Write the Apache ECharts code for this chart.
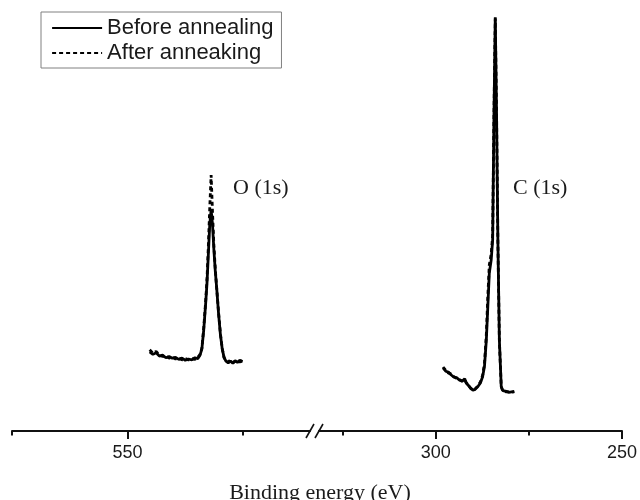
<!DOCTYPE html>
<html>
<head>
<meta charset="utf-8">
<script src="https://cdn.jsdelivr.net/npm/echarts@6/dist/echarts.min.js"></script>
<style>html,body{margin:0;padding:0;background:#fff}#c{width:640px;height:500px}</style>
</head>
<body>
<div id="c"></div>
<script>
// ---- Data (binding energy in eV, intensity in arbitrary units) ----
const seriesNames = ['Before annealing', 'After anneaking'];
const axisTitle = 'Binding energy (eV)';
const leftMajorTicks = [550];
const leftMinorTicks = [575, 525];
const rightMajorTicks = [300, 250];
const rightMinorTicks = [325, 275];
const peakLabels = ['O (1s)', 'C (1s)'];

const oEnergy = [545.2, 544.5, 543.8, 543.1, 542.4, 541.7, 541.0, 540.3, 539.6, 538.9, 538.2, 537.5, 536.8, 536.1, 535.4, 534.8, 534.3, 533.9, 533.5, 533.1, 532.8, 532.5, 532.2, 531.9, 531.6, 531.3, 531.0, 530.7, 530.3, 529.9, 529.5, 529.1, 528.7, 528.2, 527.7, 527.2, 526.7, 526.2, 525.7, 525.1];
const oBefore = [18.8, 18.2, 18.6, 17.8, 18.0, 17.4, 17.7, 17.3, 17.5, 17.0, 17.3, 16.8, 17.1, 16.9, 17.4, 17.2, 18.0, 19.5, 24, 30, 35, 42, 49, 52.5, 49, 43, 38, 34, 28, 23, 19.5, 17.5, 16.6, 16.2, 16.6, 16.1, 16.7, 16.3, 16.8, 16.5];
const oAfter  = [19.3, 18.5, 18.9, 18.1, 17.7, 17.8, 17.3, 17.6, 17.1, 17.4, 16.9, 17.2, 16.9, 17.2, 17.0, 17.5, 18.2, 19.7, 24.5, 30.5, 36, 44, 53, 60.8, 52, 44, 38.5, 34, 28.3, 23.2, 19.6, 17.4, 16.8, 16.4, 16.9, 16.3, 16.5, 16.6, 16.4, 16.7];

const cEnergy = [298.0, 297.3, 296.6, 295.8, 295.1, 294.4, 293.6, 292.9, 292.2, 291.8, 291.2, 290.6, 290.0, 289.4, 288.7, 288.0, 287.4, 286.9, 286.4, 286.0, 285.6, 285.1, 284.7, 284.35, 284.0, 283.65, 283.3, 282.9, 282.4, 282.0, 281.6, 281.0, 280.4, 279.6, 278.9];
const cBefore = [15.0, 14.2, 14.0, 13.3, 12.8, 12.7, 12.1, 11.8, 12.4, 11.4, 10.8, 10.2, 9.7, 9.9, 10.5, 11.4, 12.9, 15.3, 21.6, 29.5, 37.5, 40.6, 45.4, 75, 98.3, 75, 45.4, 21.6, 10.5, 9.6, 9.3, 9.4, 9.2, 9.3, 9.3];
const cAfter  = [15.2, 14.4, 13.8, 13.5, 12.9, 12.5, 12.2, 11.9, 12.2, 11.5, 10.9, 10.1, 9.8, 10.0, 10.7, 11.6, 13.2, 16.0, 23.0, 32.0, 39.5, 42.0, 46.5, 75.5, 98.0, 75, 45.0, 21.4, 10.6, 9.5, 9.4, 9.3, 9.3, 9.2, 9.4];

const zip = (xs, ys) => xs.map((x, i) => [x, ys[i]]);

const lineW = 2.8;
const dash = [4, 3];
const txt = '#1a1a1a';
const sans = 'Liberation Sans';
const serif = 'Liberation Serif';

function majorAxis(grid, min, max, ticks) {
  return {
    type: 'value', gridIndex: grid, min: min, max: max, inverse: true, position: 'bottom',
    axisLine: {show: true, onZero: false, lineStyle: {color: '#111', width: 2}},
    axisTick: {show: true, customValues: ticks, length: 8, lineStyle: {color: '#111', width: 2}},
    axisLabel: {show: true, customValues: ticks, margin: 13, fontSize: 18, fontFamily: sans, color: txt},
    splitLine: {show: false}
  };
}
function minorAxis(grid, min, max, ticks) {
  return {
    type: 'value', gridIndex: grid, min: min, max: max, inverse: true, position: 'bottom',
    axisLine: {show: false, onZero: false},
    axisTick: {show: true, customValues: ticks, length: 4.5, lineStyle: {color: '#111', width: 2}},
    axisLabel: {show: false},
    splitLine: {show: false}
  };
}

const chart = echarts.init(document.getElementById('c'), null, {renderer: 'canvas'});
chart.setOption({
  animation: false,
  backgroundColor: '#fff',
  title: {
    text: axisTitle, left: 'center', top: 477,
    textStyle: {fontFamily: serif, fontSize: 22, fontWeight: 'normal', color: txt}
  },
  legend: {
    data: seriesNames,
    orient: 'vertical', left: 41, top: 12,
    padding: [5, 8, 4, 10],
    itemWidth: 50, itemHeight: 14, itemGap: 3,
    borderColor: '#808080', borderWidth: 1,
    itemStyle: {opacity: 0, color: 'transparent', borderWidth: 0},
    lineStyle: {width: 2.2},
    textStyle: {fontFamily: sans, fontSize: 22, color: txt, lineHeight: 22}
  },
  grid: [
    {left: 12, width: 298, top: 10, bottom: 69},
    {left: 319, width: 304, top: 10, bottom: 69}
  ],
  xAxis: [
    majorAxis(0, 510.5, 575, leftMajorTicks),
    minorAxis(0, 510.5, 575, leftMinorTicks),
    majorAxis(1, 250, 331.3, rightMajorTicks),
    minorAxis(1, 250, 331.3, rightMinorTicks)
  ],
  yAxis: [
    {type: 'value', gridIndex: 0, min: 0, max: 100, show: false},
    {type: 'value', gridIndex: 1, min: 0, max: 100, show: false}
  ],
  series: [
    {name: seriesNames[0], type: 'line', xAxisIndex: 0, yAxisIndex: 0, data: zip(oEnergy, oBefore), showSymbol: false, symbol: 'none',
     lineStyle: {color: '#000', width: lineW, type: 'solid'}, itemStyle: {color: '#000'}, z: 3},
    {name: seriesNames[1], type: 'line', xAxisIndex: 0, yAxisIndex: 0, data: zip(oEnergy, oAfter), showSymbol: false, symbol: 'none',
     lineStyle: {color: '#000', width: lineW, type: dash}, itemStyle: {color: '#000'}, z: 2},
    {name: seriesNames[0], type: 'line', xAxisIndex: 2, yAxisIndex: 1, data: zip(cEnergy, cBefore), showSymbol: false, symbol: 'none',
     lineStyle: {color: '#000', width: lineW, type: 'solid'}, itemStyle: {color: '#000'}, z: 3},
    {name: seriesNames[1], type: 'line', xAxisIndex: 2, yAxisIndex: 1, data: zip(cEnergy, cAfter), showSymbol: false, symbol: 'none',
     lineStyle: {color: '#000', width: lineW, type: dash}, itemStyle: {color: '#000'}, z: 2}
  ],
  graphic: [
    {type: 'text', left: 233, top: 177, style: {text: peakLabels[0], font: '22px "Liberation Serif"', fill: txt}},
    {type: 'text', left: 513, top: 177, style: {text: peakLabels[1], font: '22px "Liberation Serif"', fill: txt}},
    {type: 'line', shape: {x1: 306, y1: 438, x2: 314, y2: 424}, style: {stroke: '#111', lineWidth: 1.6}},
    {type: 'line', shape: {x1: 315, y1: 438, x2: 323, y2: 424}, style: {stroke: '#111', lineWidth: 1.6}}
  ]
});
</script>
</body>
</html>
